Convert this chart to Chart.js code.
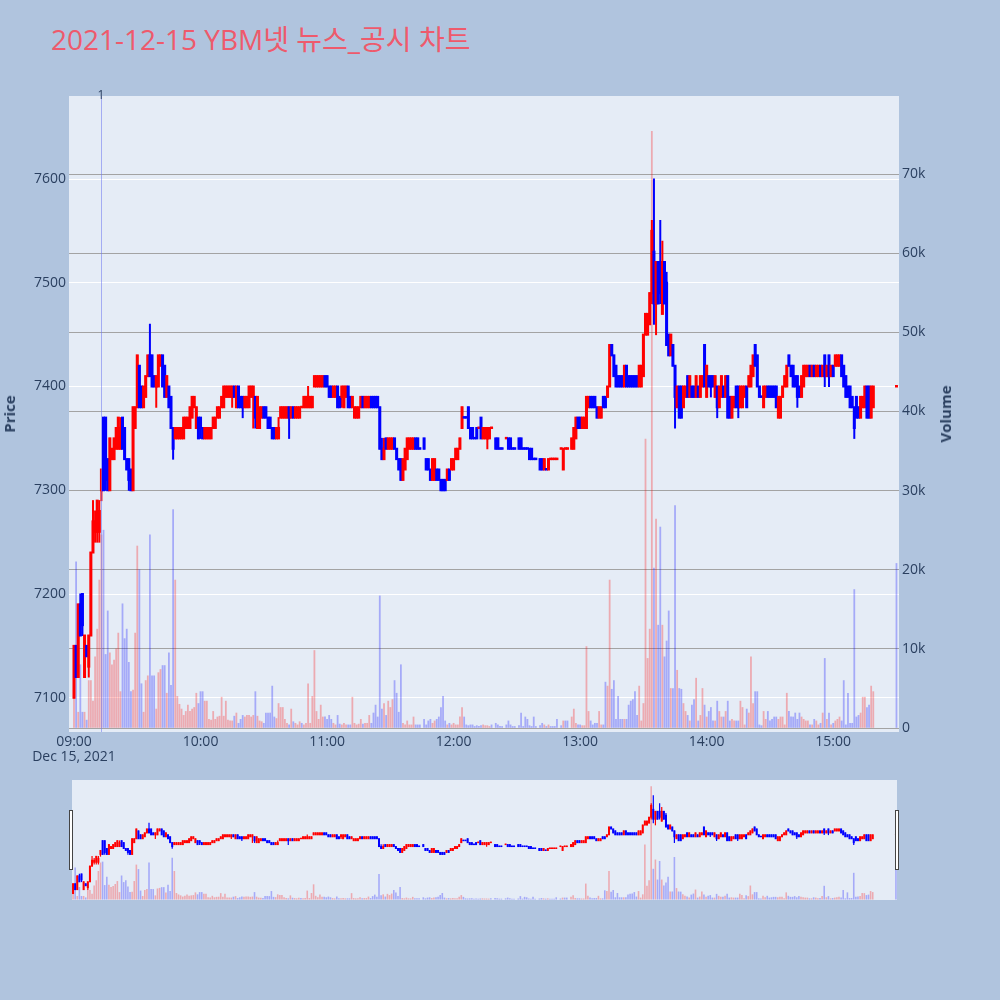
<!DOCTYPE html>
<html>
<head>
<meta charset="utf-8">
<script src="https://cdn.jsdelivr.net/npm/chart.js@4.4.1/dist/chart.umd.min.js"></script>
<style>
    body { margin: 0; width: 1000px; height: 1000px; background: #b0c4de; position: relative; overflow: hidden;
           font-family: "Open Sans", "Noto Sans CJK KR", sans-serif; }
    #title { position: absolute; left: 51px; top: 22px; font-size: 28px; line-height: 35px; color: #ee5a6c; white-space: nowrap; }
    .axis-title { position: absolute; font-size: 15px; font-weight: bold; color: #2a3f5f; white-space: nowrap;
                  transform: translate(-50%, -50%) rotate(-90deg); }
    #mainBox { position: absolute; left: 0; top: 0; width: 1000px; height: 770px; }
    #sliderBox { position: absolute; left: 72px; top: 780px; width: 825px; height: 120px; background: #e5ecf6; }
    .grab { position: absolute; top: 810px; width: 2px; height: 58px; background: #fff; border: 1px solid #444; }
</style>
</head>
<body>
<div id="title">2021-12-15 YBM넷 뉴스_공시 차트</div>
<div id="mainBox"><canvas id="chart" width="1000" height="770"></canvas></div>
<div class="axis-title" style="left:9px;top:414px">Price</div>
<div class="axis-title" style="left:945px;top:414px">Volume</div>
<div id="sliderBox"><canvas id="slider" width="825" height="120"></canvas></div>
<div class="grab" style="left:69px"></div>
<div class="grab" style="left:895px"></div>

<script>
// x축 눈금 (09:00 부터 1분 = 1칸)
const tickLabels = ['09:00', '10:00', '11:00', '12:00', '13:00', '14:00', '15:00'];
const dateLabel = 'Dec 15, 2021';
const priceTicks = [7100, 7200, 7300, 7400, 7500, 7600];
const volumeTicks = [0, 10000, 20000, 30000, 40000, 50000, 60000, 70000];
const markerMinute = 13;   // 09:13 뉴스 표시
const markerText = '1';

// 1분봉 (index = 09:00 이후 분), null = 거래 없음
const opens = [
    7100,7150,7120,7190,7200,7120,7150,7130,7160,7240,
    7260,7260,7260,7300,7370,7370,7330,7300,7330,7330,
    7340,7340,7340,7370,7360,7330,7330,7320,7300,7360,
    7380,7420,7400,7380,7390,7410,7430,7430,7410,7400,
    7400,7420,7430,7420,7390,7400,7390,7360,7350,7350,
    7350,7350,7350,7360,7360,7360,7370,7380,7360,7370,
    7370,7360,7350,7350,7350,7350,7360,7360,7370,7370,
    7380,7380,7390,7390,7390,7390,7400,7380,7400,7390,
    7390,7380,7380,7380,7390,7390,7390,7360,7360,7370,
    7380,7380,7370,7370,7360,7360,7350,7350,7370,7370,
    7370,7370,7380,7370,7380,7370,7370,7370,7380,7380,
    7380,7380,7380,7380,7400,7400,7400,7400,7400,7410,
    7410,7400,7400,7390,7390,7400,7390,7390,7380,7390,
    7400,7390,7380,7370,7370,7370,7380,7390,7380,7380,
    7380,7390,7390,7390,7390,7380,7340,7330,7350,7340,
    7340,7340,7350,7340,7330,7330,7310,7320,7330,7340,
    7340,7340,7350,7350,7340,null,7350,7330,7330,7320,
    7310,7310,7320,7320,7310,7310,7310,7310,7320,7320,
    7320,7330,7330,7340,7360,7370,7370,7380,7360,7360,
    7350,7360,7360,7370,7350,7350,7350,7350,7360,null,
    7350,7350,7340,7340,null,7350,7350,7350,7340,7340,
    null,7350,7350,7340,7340,7340,7340,7340,7330,7330,
    null,7330,7330,7320,7320,7320,7330,7330,7330,7330,
    null,7340,7320,7340,7340,null,7340,7340,7350,7370,
    7370,7360,7360,7360,7380,7390,7390,7390,7380,7370,
    7370,7390,7390,7390,7400,7440,7430,7420,7410,7410,
    7410,7400,7420,7410,7410,7410,7410,7410,7400,7400,
    7410,7450,7450,7460,7490,7530,7480,7520,7520,7470,
    7520,7500,7450,7430,7440,7420,7380,7400,7400,7380,
    7390,7410,7390,7400,7400,7390,7400,7390,7400,7440,
    7390,7410,7410,7410,7390,7400,7380,7390,7400,7390,
    7410,7390,7370,7380,7400,7400,7380,7380,7390,7400,
    7400,7400,7410,7440,7430,7400,7390,7380,7390,7400,
    7400,7400,7400,7400,7370,7370,7390,7400,7400,7430,
    7420,7420,7410,7410,7400,7390,7400,7410,7410,7420,
    7410,7420,7410,7410,7420,7410,7430,7410,7430,7410,
    7420,7420,7420,7420,7430,7420,7410,7400,7400,7390,
    7380,7390,7380,7370,7380,7380,7400,7400,7370,7380,
    null,null,null,null,null,null,null,null,null,null,
    7400
];
const highs = [
    7150,7150,7190,7200,7200,7160,7150,7160,7240,7290,
    7280,7290,7290,7320,7370,7370,7330,7350,7340,7350,
    7360,7370,7370,7370,7360,7330,7330,7320,7380,7380,
    7430,7420,7400,7400,7410,7430,7460,7430,7410,7410,
    7430,7430,7430,7420,7410,7400,7390,7360,7360,7360,
    7360,7360,7370,7370,7370,7380,7390,7390,7380,7370,
    7370,7360,7360,7360,7360,7360,7370,7370,7380,7380,
    7390,7400,7400,7400,7400,7400,7400,7400,7400,7390,
    7390,7390,7390,7400,7400,7400,7390,7390,7380,7380,
    7380,7380,7370,7370,7360,7360,7360,7370,7380,7380,
    7380,7380,7380,7380,7380,7380,7380,7380,7380,7390,
    7390,7400,7390,7390,7410,7410,7410,7410,7410,7410,
    7410,7400,7400,7400,7400,7400,7390,7400,7400,7400,
    7400,7390,7390,7380,7380,7380,7390,7390,7390,7390,
    7390,7390,7390,7390,7390,7380,7350,7350,7350,7350,
    7350,7350,7350,7340,7330,7330,7330,7340,7350,7350,
    7350,7350,7350,7350,7340,null,7350,7330,7330,7320,
    7330,7330,7320,7320,7310,7310,7310,7320,7320,7330,
    7330,7340,7340,7350,7380,7370,7370,7380,7360,7360,
    7350,7360,7360,7370,7360,7360,7360,7360,7360,null,
    7350,7350,7340,7340,null,7350,7350,7350,7340,7340,
    null,7350,7350,7340,7340,7340,7340,7340,7330,7330,
    null,7330,7330,7330,7320,7330,7330,7330,7330,7330,
    null,7340,7340,7340,7340,null,7350,7360,7370,7370,
    7370,7370,7370,7390,7390,7390,7390,7390,7380,7380,
    7380,7390,7390,7400,7440,7440,7430,7420,7410,7410,
    7410,7420,7420,7410,7410,7410,7410,7410,7420,7420,
    7450,7470,7470,7490,7560,7600,7520,7520,7560,7540,
    7520,7510,7450,7450,7440,7420,7400,7400,7400,7400,
    7400,7410,7410,7400,7400,7410,7400,7410,7410,7440,
    7420,7410,7410,7410,7410,7400,7400,7410,7400,7410,
    7410,7390,7390,7390,7400,7400,7400,7400,7400,7400,
    7410,7420,7430,7440,7430,7400,7390,7400,7400,7400,
    7400,7400,7400,7400,7390,7390,7400,7410,7420,7430,
    7420,7420,7410,7410,7400,7410,7420,7420,7420,7420,
    7420,7420,7420,7420,7420,7420,7430,7420,7430,7420,
    7420,7430,7430,7430,7430,7420,7410,7400,7400,7390,
    7380,7390,7380,7390,7390,7400,7400,7400,7400,7400,
    null,null,null,null,null,null,null,null,null,null,
    7400
];
const lows = [
    7100,7120,7120,7160,7160,7120,7140,7120,7160,7240,
    7250,7250,7250,7290,7300,7300,7300,7300,7330,7330,
    7340,7340,7340,7340,7330,7320,7300,7300,7300,7360,
    7380,7380,7380,7380,7390,7410,7410,7400,7400,7380,
    7400,7420,7400,7390,7390,7380,7360,7330,7350,7350,
    7350,7350,7350,7360,7360,7360,7370,7380,7360,7350,
    7350,7350,7350,7350,7350,7350,7360,7360,7370,7370,
    7380,7380,7390,7390,7390,7380,7390,7380,7380,7380,
    7370,7380,7380,7380,7390,7360,7360,7360,7360,7370,
    7370,7370,7360,7360,7350,7350,7350,7350,7370,7370,
    7370,7370,7350,7370,7370,7370,7370,7370,7380,7380,
    7380,7380,7380,7380,7400,7400,7400,7400,7400,7400,
    7400,7390,7390,7390,7390,7380,7380,7380,7380,7390,
    7380,7380,7380,7370,7370,7370,7380,7380,7380,7380,
    7380,7380,7380,7380,7380,7340,7330,7330,7340,7340,
    7340,7340,7340,7330,7320,7310,7310,7320,7330,7340,
    7340,7340,7340,7340,7340,null,7340,7320,7320,7310,
    7310,7310,7310,7310,7300,7300,7300,7310,7310,7320,
    7320,7330,7330,7340,7360,7370,7370,7360,7350,7350,
    7350,7350,7360,7350,7350,7350,7340,7350,7360,null,
    7340,7340,7340,7340,null,7350,7340,7340,7340,7340,
    null,7340,7340,7340,7340,7340,7330,7330,7330,7330,
    null,7320,7320,7320,7320,7320,7330,7330,7330,7330,
    null,7340,7320,7340,7340,null,7340,7340,7350,7360,
    7360,7360,7360,7360,7380,7380,7380,7380,7370,7370,
    7370,7380,7380,7390,7400,7430,7410,7400,7400,7400,
    7400,7400,7400,7400,7400,7400,7400,7400,7400,7400,
    7410,7450,7450,7460,7480,7460,7450,7480,7480,7470,
    7480,7440,7430,7430,7420,7360,7380,7370,7370,7380,
    7390,7390,7390,7390,7390,7390,7390,7390,7400,7400,
    7390,7400,7390,7400,7390,7370,7380,7390,7390,7390,
    7370,7370,7370,7380,7380,7370,7380,7380,7390,7380,
    7400,7400,7410,7420,7400,7390,7390,7380,7390,7390,
    7390,7390,7390,7380,7370,7370,7390,7400,7400,7420,
    7410,7400,7400,7380,7390,7390,7400,7410,7410,7410,
    7410,7410,7410,7410,7410,7410,7400,7410,7400,7410,
    7410,7420,7420,7420,7410,7400,7390,7390,7380,7380,
    7350,7370,7370,7370,7380,7380,7370,7370,7370,7380,
    null,null,null,null,null,null,null,null,null,null,
    7400
];
const closes = [
    7150,7120,7190,7160,7170,7160,7140,7160,7240,7270,
    7270,7290,7280,7320,7300,7310,7300,7350,7340,7350,
    7360,7370,7360,7340,7330,7320,7310,7300,7380,7380,
    7430,7380,7380,7400,7410,7430,7410,7400,7400,7410,
    7430,7430,7400,7390,7410,7380,7360,7340,7360,7360,
    7360,7360,7370,7370,7370,7380,7390,7390,7380,7350,
    7360,7350,7360,7360,7360,7360,7370,7370,7380,7380,
    7390,7400,7400,7400,7400,7400,7390,7400,7380,7380,
    7380,7390,7390,7400,7400,7400,7370,7390,7380,7380,
    7370,7370,7360,7360,7350,7350,7360,7360,7380,7380,
    7380,7380,7370,7380,7370,7380,7380,7380,7380,7390,
    7390,7390,7390,7390,7410,7410,7410,7410,7410,7400,
    7400,7390,7390,7400,7400,7380,7380,7400,7400,7400,
    7380,7380,7390,7380,7380,7380,7390,7380,7390,7390,
    7390,7380,7380,7380,7380,7340,7330,7340,7340,7350,
    7350,7350,7340,7330,7320,7310,7330,7340,7350,7350,
    7350,7350,7340,7340,7340,null,7340,7320,7320,7310,
    7330,7330,7310,7310,7300,7300,7300,7320,7310,7330,
    7330,7340,7340,7350,7380,7370,7370,7360,7350,7350,
    7350,7350,7360,7350,7360,7360,7360,7360,7360,null,
    7340,7340,7340,7340,null,7350,7340,7340,7340,7340,
    null,7340,7340,7340,7340,7340,7330,7330,7330,7330,
    null,7320,7320,7330,7320,7330,7330,7330,7330,7330,
    null,7340,7340,7340,7340,null,7350,7360,7370,7360,
    7360,7370,7370,7390,7390,7380,7380,7380,7370,7380,
    7380,7380,7380,7400,7440,7430,7410,7400,7400,7400,
    7400,7420,7400,7400,7400,7400,7400,7400,7420,7420,
    7450,7470,7470,7490,7550,7480,7520,7480,7490,7520,
    7480,7440,7430,7450,7420,7390,7400,7370,7370,7400,
    7400,7390,7410,7390,7390,7410,7390,7410,7410,7400,
    7420,7400,7400,7400,7410,7380,7400,7410,7390,7410,
    7370,7370,7390,7390,7380,7380,7400,7400,7400,7380,
    7410,7420,7430,7420,7400,7390,7390,7400,7400,7390,
    7390,7390,7390,7380,7390,7390,7400,7410,7420,7420,
    7410,7400,7400,7390,7390,7410,7420,7420,7420,7410,
    7420,7410,7420,7420,7410,7420,7410,7420,7410,7420,
    7410,7430,7430,7430,7410,7400,7390,7390,7380,7380,
    7360,7370,7370,7390,7390,7400,7370,7370,7400,7400,
    null,null,null,null,null,null,null,null,null,null,
    7400
];
const volumes = [
    5000,21000,2000,8000,2000,2000,1000,6000,6000,3400,
    9000,12500,18700,24400,25000,9300,14800,9500,8000,8600,
    10000,12000,4600,15700,11300,12500,8300,4600,4800,12000,
    23000,20000,5600,2000,6000,6600,24400,6600,6600,2400,
    7000,7400,7900,7900,4400,9500,5400,27600,18700,4000,
    3000,2400,1600,2100,2900,2100,2400,2600,4400,3100,
    4600,4600,3400,3400,1100,1000,2100,1100,1400,1500,
    3900,1500,3400,1000,900,900,1500,1900,600,1100,
    1600,1400,1600,1600,1400,1600,4600,1500,900,800,
    600,1900,1900,1900,5300,1400,1200,3100,2600,2600,
    1100,600,400,2400,800,600,400,800,600,400,
    600,5600,600,4000,9800,2100,1100,2900,1400,1400,
    1100,1600,1100,600,400,1600,500,400,600,400,
    400,400,3900,600,400,500,1100,500,600,600,
    1600,600,1900,2900,1400,16700,2400,3100,1600,3400,
    2600,3600,6000,4400,2000,8000,600,400,900,400,
    400,1400,400,400,400,null,1100,400,900,1100,
    600,900,1100,1400,2600,4000,900,400,600,400,
    600,400,400,1400,2600,1400,400,300,400,400,
    200,300,200,300,400,300,300,200,400,null,
    600,400,200,200,null,400,900,400,200,200,
    null,300,1900,200,1400,1100,300,200,1400,200,
    null,300,600,400,200,400,200,200,200,1100,
    null,300,900,900,900,null,1400,2400,600,400,
    400,300,300,10300,2100,900,400,600,600,2100,
    400,400,5800,5300,18700,4900,6000,1100,4000,1100,
    1100,1100,1100,2900,3400,3600,4600,1600,5300,900,
    3100,36500,8800,12500,75400,20200,26400,13000,25400,13000,
    9000,11000,14800,5000,5000,28100,7300,5000,4900,3100,
    2100,1600,900,2900,3600,6300,900,1600,5000,2900,
    1400,2100,2600,900,900,3400,2100,1400,1400,2100,
    3400,900,1100,900,900,900,3400,2600,400,2400,
    1900,9000,3100,4600,4600,400,300,2100,1100,2100,
    900,1100,1400,1400,1100,1400,1400,400,4400,2100,
    1400,1400,1900,1100,1900,1400,1100,900,900,400,
    400,1100,900,400,600,1900,8800,1100,1900,400,
    600,900,1100,1400,900,6000,400,4400,600,600,
    17500,1400,1600,1900,3900,3900,2600,2900,5300,4600,
    null,null,null,null,null,null,null,null,null,null,
    20800
];

const RED = '#ff0000';
const BLUE = '#0000ff';
const RED_VOL = 'rgba(255,0,0,0.28)';
const BLUE_VOL = 'rgba(0,0,255,0.28)';
const TEXT = '#2a3f5f';

Chart.defaults.font.family = '"Open Sans", "Noto Sans CJK KR", sans-serif';

// 상승/하락 판정 (시가=종가면 직전 종가와 비교), 거래량 색은 종가>시가 일 때만 빨강
const candles = [];
let prevClose = null, prevUp = true;
for (let i = 0; i < opens.length; i++) {
    if (opens[i] === null) continue;
    const o = opens[i], c = closes[i];
    let up;
    if (c > o) up = true;
    else if (c < o) up = false;
    else if (prevClose !== null && c !== prevClose) up = c > prevClose;
    else up = prevUp;
    candles.push({ i: i, o: o, h: highs[i], l: lows[i], c: c, v: volumes[i], up: up, volUp: c > o });
    prevClose = c;
    prevUp = up;
}

function colorBy(key, a, b) {
    return (ctx) => (ctx.raw && ctx.raw[key]) ? a : b;
}

function makeSets(s) {
    return [
        {   // 몸통
            type: 'bar', yAxisID: 'y', grouped: false,
            data: candles.map(d => ({ x: d.i, y: [Math.min(d.o, d.c), Math.max(d.o, d.c)], up: d.up })),
            backgroundColor: colorBy('up', RED, BLUE),
            barThickness: s.body, inflateAmount: s.bodyInf, minBarLength: 0.5
        },
        {   // 꼬리
            type: 'bar', yAxisID: 'y', grouped: false,
            data: candles.map(d => ({ x: d.i, y: [d.l, d.h], up: d.up })),
            backgroundColor: colorBy('up', RED, BLUE),
            barThickness: s.wick, inflateAmount: s.wickInf, minBarLength: 0.5
        },
        {   // 거래량
            type: 'bar', yAxisID: 'y1', grouped: false,
            data: candles.map(d => ({ x: d.i, y: d.v, volUp: d.volUp })),
            backgroundColor: colorBy('volUp', RED_VOL, BLUE_VOL),
            barThickness: s.vol, inflateAmount: 0.3
        }
    ];
}

const plotBg = {
    id: 'plotBg',
    beforeDraw(chart) {
        const { ctx, chartArea: a } = chart;
        ctx.save();
        ctx.fillStyle = '#e5ecf6';
        ctx.fillRect(a.left, a.top, a.right - a.left, a.bottom - a.top);
        ctx.restore();
    }
};

const newsMarker = {
    id: 'newsMarker',
    afterDatasetsDraw(chart) {
        const { ctx, chartArea: a, scales } = chart;
        const px = Math.round(scales.x.getPixelForValue(markerMinute)) + 0.5;
        ctx.save();
        ctx.strokeStyle = 'rgba(110,120,240,0.55)';
        ctx.lineWidth = 1;
        ctx.beginPath();
        ctx.moveTo(px, a.top);
        ctx.lineTo(px, a.bottom);
        ctx.stroke();
        ctx.fillStyle = TEXT;
        ctx.font = '12px "Open Sans"';
        ctx.textAlign = 'center';
        ctx.textBaseline = 'middle';
        ctx.fillText(markerText, px - 0.5, a.top);
        ctx.restore();
    }
};

const tickFont = { size: 14 };

new Chart(document.getElementById('chart'), {
    type: 'bar',
    data: { datasets: makeSets({ body: 1, bodyInf: 1, wick: 1, wickInf: 0.5, vol: 1.2 }) },
    options: {
        responsive: false,
        devicePixelRatio: 1,
        animation: false,
        layout: { padding: { top: 96, right: 46, left: 0, bottom: 0 } },
        plugins: { legend: { display: false }, tooltip: { enabled: false } },
        scales: {
            x: {
                type: 'linear', min: -2.37, max: 391.2, offset: false,
                grid: { display: false, drawTicks: false }, border: { display: false },
                afterBuildTicks: (s) => { s.ticks = tickLabels.map((t, k) => ({ value: k * 60 })); },
                afterFit: (s) => { s.height = 38; },
                ticks: {
                    autoSkip: false, maxRotation: 0, padding: 2, color: TEXT,
                    font: { size: 14, lineHeight: 1.1 },
                    callback: (v) => {
                        const k = Math.round(v / 60);
                        return k === 0 ? [tickLabels[0], dateLabel] : tickLabels[k];
                    }
                }
            },
            y: {
                position: 'left', min: 7067, max: 7680,
                grid: { color: '#ffffff', lineWidth: 1, drawTicks: false }, border: { display: false },
                afterBuildTicks: (s) => { s.ticks = priceTicks.map(v => ({ value: v })); },
                afterFit: (s) => { s.width = 69; },
                ticks: { padding: 3, color: TEXT, font: tickFont, callback: (v) => String(v) }
            },
            y1: {
                position: 'right', min: -505, max: 79860,
                grid: { color: '#a3a3a3', lineWidth: 1, drawTicks: false }, border: { display: false },
                afterBuildTicks: (s) => { s.ticks = volumeTicks.map(v => ({ value: v })); },
                afterFit: (s) => { s.width = 55; },
                ticks: {
                    padding: 3, color: TEXT, font: tickFont,
                    callback: (v) => v === 0 ? '0' : (v / 1000) + 'k'
                }
            }
        }
    },
    plugins: [plotBg, newsMarker]
});

// 하단 레인지 슬라이더 미니 차트
new Chart(document.getElementById('slider'), {
    type: 'bar',
    data: { datasets: makeSets({ body: 1, bodyInf: 0.5, wick: 0.6, wickInf: 0.3, vol: 1 }) },
    options: {
        responsive: false,
        devicePixelRatio: 1,
        animation: false,
        layout: { padding: 0 },
        plugins: { legend: { display: false }, tooltip: { enabled: false } },
        scales: {
            x: { type: 'linear', min: -0.5, max: 390.5, offset: false, display: false },
            y: { min: 7067, max: 7680, display: false },
            y1: { min: -505, max: 79860, display: false }
        }
    }
});
</script>
</body>
</html>
